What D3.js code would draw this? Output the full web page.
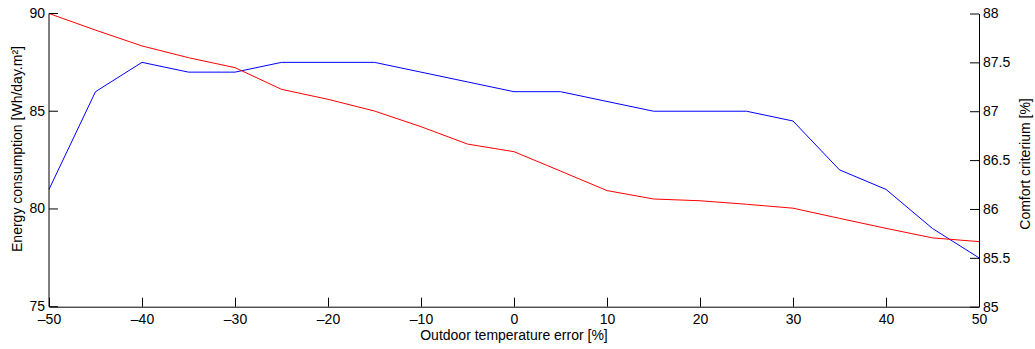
<!DOCTYPE html>
<html>
<head>
<meta charset="utf-8">
<script src="https://cdn.jsdelivr.net/npm/d3@7"></script>
<style>
  html, body { margin: 0; padding: 0; background: #fff; }
  svg { display: block; font-family: "Liberation Sans", Arial, Helvetica, sans-serif; }
</style>
</head>
<body>
<svg id="chart" width="1035" height="349"></svg>
<script>
const xValues = [-50, -45, -40, -35, -30, -25, -20, -15, -10, -5, 0, 5, 10, 15, 20, 25, 30, 35, 40, 45, 50];
const energyValues = [90.0, 89.15, 88.34, 87.74, 87.23, 86.12, 85.61, 85.01, 84.21, 83.32, 82.93, 81.94, 80.94, 80.51, 80.42, 80.24, 80.04, 79.52, 79.01, 78.52, 78.33];
const comfortValues = [86.2, 87.2, 87.5, 87.4, 87.4, 87.5, 87.5, 87.5, 87.4, 87.3, 87.2, 87.2, 87.1, 87.0, 87.0, 87.0, 86.9, 86.4, 86.2, 85.8, 85.5];
const xTicks = [-50, -40, -30, -20, -10, 0, 10, 20, 30, 40, 50];
const leftTicks = [75, 80, 85, 90];
const rightTicks = [85, 85.5, 86, 86.5, 87, 87.5, 88];
const xLabel = "Outdoor temperature error [%]";
const leftLabel = "Energy consumption [Wh/day.m²]";
const rightLabel = "Comfort criterium [%]";

const svg = d3.select("#chart");
const x0 = 49, x1 = 979, yTop = 13.5, yBot = 306.7;
const FS = 14;

const x = d3.scaleLinear().domain([-50, 50]).range([x0, x1]);
const yL = d3.scaleLinear().domain([75, 90]).range([yBot, yTop]);
const yR = d3.scaleLinear().domain([85, 88]).range([yBot, yTop]);

const fmt = v => String(v).replace("-", "\u2013");

// lines
const lineE = d3.line().x((d, i) => x(xValues[i])).y(d => yL(d));
const lineC = d3.line().x((d, i) => x(xValues[i])).y(d => yR(d));

svg.append("path").datum(comfortValues).attr("d", lineC)
  .attr("fill", "none").attr("stroke", "#0000ff").attr("stroke-width", 1);
svg.append("path").datum(energyValues).attr("d", lineE)
  .attr("fill", "none").attr("stroke", "#ff0000").attr("stroke-width", 1);

// axes
const gx = svg.append("g").attr("transform", `translate(0,${yBot})`)
  .call(d3.axisBottom(x).tickValues(xTicks).tickFormat(fmt).tickSizeInner(-9).tickSizeOuter(0).tickPadding(7));
const gl = svg.append("g").attr("transform", `translate(${x0},0)`)
  .call(d3.axisLeft(yL).tickValues(leftTicks).tickFormat(fmt).tickSizeInner(-9).tickSizeOuter(0).tickPadding(4).offset(0));
const gr = svg.append("g").attr("transform", `translate(${x1},0)`)
  .call(d3.axisRight(yR).tickValues(rightTicks).tickFormat(d => String(d)).tickSizeInner(-9).tickSizeOuter(0).tickPadding(4));

[gx, gl, gr].forEach(g => {
  g.selectAll("text").attr("font-size", FS).attr("fill", "#000")
    .attr("font-family", "'Liberation Sans', Arial, Helvetica, sans-serif");
  g.selectAll("line").attr("stroke", "#000");
  g.select(".domain").attr("stroke", "#000");
});

// titles
svg.append("text").attr("x", 514).attr("y", 340)
  .attr("text-anchor", "middle").attr("font-size", FS).text(xLabel);
svg.append("text").attr("transform", `translate(21.5,149) rotate(-90)`)
  .attr("text-anchor", "middle").attr("font-size", FS).text(leftLabel);
svg.append("text").attr("transform", `translate(1029.5,164) rotate(-90)`)
  .attr("text-anchor", "middle").attr("font-size", FS).text(rightLabel);
</script>
</body>
</html>
